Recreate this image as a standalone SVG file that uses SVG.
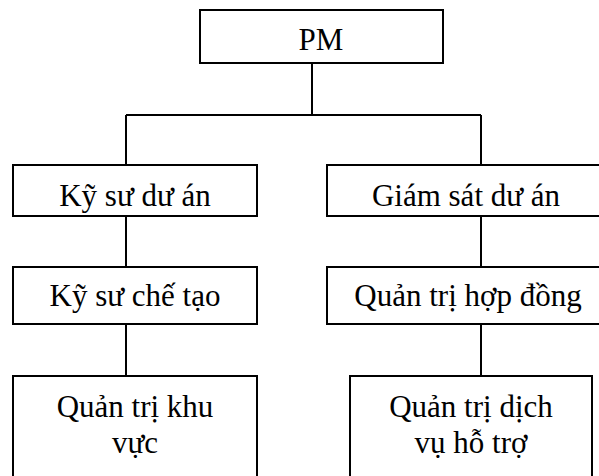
<svg xmlns="http://www.w3.org/2000/svg" width="599" height="476" viewBox="0 0 599 476">
<style>
.box{fill:#fff;stroke:#000;stroke-width:2}
.ln{stroke:#000;stroke-width:2;fill:none}
text{font-family:"Liberation Serif","Times New Roman",serif;font-size:31px;fill:#000;text-anchor:middle}
</style>
<rect width="599" height="476" fill="#fff"/>
<g id="connectors">
<path class="ln" d="M312 63V115M126 115H481M126 115V165M481 115V165"/>
<path class="ln" d="M126 216V267M481 216V267M126 324V376M481 324V376"/>
</g>
<g id="pm"><rect class="box" x="200" y="10" width="243" height="53"/><text x="321" y="50">PM</text></g>
<g id="ky-su-du-an"><rect class="box" x="13" y="165" width="244" height="51"/><text x="135" y="206">Kỹ sư dư án</text></g>
<g id="giam-sat-du-an"><rect class="box" x="327" y="165" width="280" height="51"/><text x="466" y="206">Giám sát dư án</text></g>
<g id="ky-su-che-tao"><rect class="box" x="13" y="267" width="244" height="57"/><text x="135" y="306">Kỹ sư chế tạo</text></g>
<g id="quan-tri-hop-dong"><rect class="box" x="327" y="267" width="280" height="57"/><text x="468" y="306">Quản trị hợp đồng</text></g>
<g id="quan-tri-khu-vuc"><rect class="box" x="13" y="376" width="244" height="110"/><text x="135" y="417">Quản trị khu</text><text x="135" y="453">vực</text></g>
<g id="quan-tri-dich-vu-ho-tro"><rect class="box" x="350" y="376" width="242" height="110"/><text x="471" y="417">Quản trị dịch</text><text x="471" y="453">vụ hỗ trợ</text></g>
</svg>
